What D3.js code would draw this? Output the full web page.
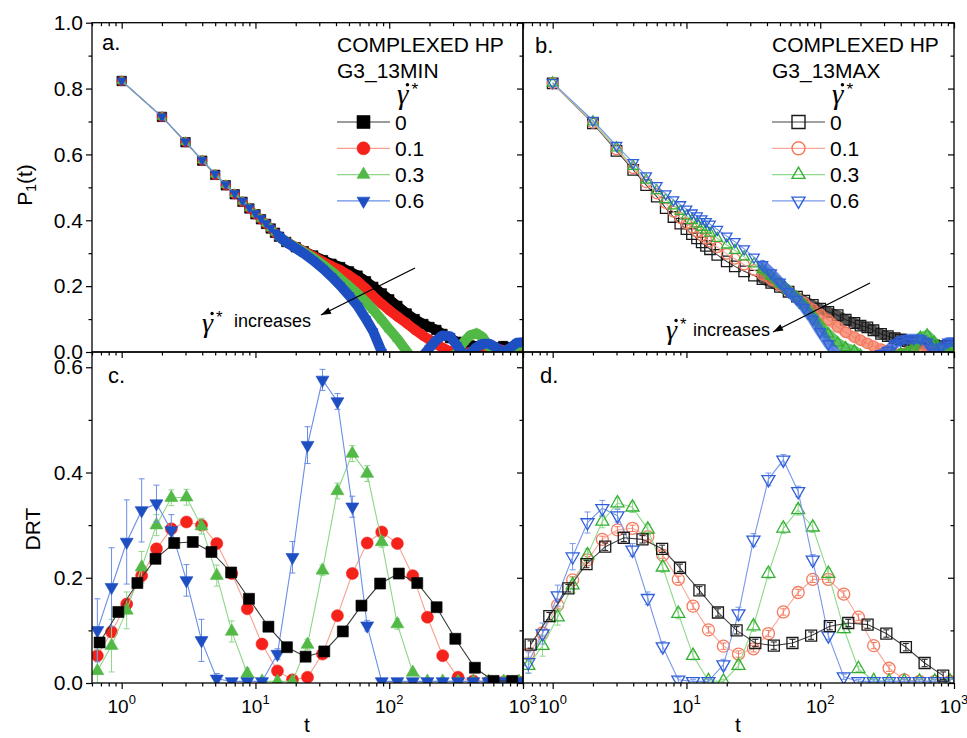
<!DOCTYPE html>
<html>
<head>
<meta charset="utf-8">
<script src="https://cdn.jsdelivr.net/npm/d3@7"></script>
<style>
body { margin: 0; background: #fff; }
text { font-family: "Liberation Sans", Arial, sans-serif; fill: #000; }
</style>
</head>
<body>
<svg id="chart" width="967" height="738"></svg>
<script>
// time points of the P1(t) curves (top panels)
var tTop = [1,2,3,4,5,6,7,8,9,10,11,12,13,14,15,17,20,23,27,32,37,43,50,58,67,76,88,100,115,135,155,180,200,225,250,285,320,360,400,450,500,560,630,710,800,900,1000];

// panel a, G3_13MIN, shear rate 0 / 0.1 / 0.3 / 0.6
var aBlack = [.823,.714,.637,.581,.538,.506,.479,.456,.436,.418,.403,.389,.375,.362,.350,
  .334,.318,.306,.293,.279,.268,.258,.245,.232,.215,.198,.178,.160,.140,.117,.100,.085,.076,.067,.055,
  .042,.031,.025,.020,.017,.022,.018,.012,.018,.013,.008,.012];
var aRed = [.823,.714,.637,.581,.538,.506,.479,.456,.436,.418,.403,.389,.375,.362,.350,
  .334,.319,.306,.291,.274,.261,.249,.233,.215,.192,.169,.146,.127,.108,.087,.068,.049,.037,.024,.013,
  .002,-.01,-.01,.0,.006,.012,.015,.012,.005,.0,.004,.005];
var aGreen = [.823,.714,.638,.582,.539,.507,.480,.457,.437,.419,.404,.390,.376,.363,.351,
  .334,.318,.304,.286,.265,.245,.222,.200,.177,.152,.128,.097,.069,.040,.002,-.03,-.05,-.05,-.04,-.03,
  -.02,-.002,.03,.05,.057,.045,.015,.0,.0,.01,.018,.02];
var aBlue = [.824,.715,.639,.583,.541,.509,.482,.459,.439,.421,.406,.391,.377,.364,.352,
  .333,.315,.299,.278,.253,.229,.202,.172,.140,.100,.062,.0,-.04,-.08,-.1,-.06,-.01,.012,.036,.05,
  .048,.02,-.01,-.004,.015,.025,.025,.014,.0,.012,.028,.03];

// panel b, G3_13MAX
var bBlack = [.816,.694,.611,.553,.507,.472,.437,.410,.390,.373,.358,.345,.333,.322,.312,
  .295,.275,.260,.245,.232,.221,.210,.198,.183,.168,.156,.143,.132,.122,.112,.098,.088,.080,.075,.066,
  .055,.048,.042,.038,.033,.028,.025,.022,.020,.018,.020,.018];
var bRed = [.816,.696,.615,.558,.515,.481,.452,.426,.407,.391,.377,.365,.354,.344,.335,
  .318,.298,.283,.265,.249,.234,.219,.202,.185,.165,.150,.130,.115,.097,.076,.060,.045,.036,.026,.018,
  .009,.003,-.005,-.005,.0,.005,.008,.005,.0,-.005,.0,.005];
var bGreen = [.817,.699,.620,.564,.522,.490,.463,.444,.427,.413,.400,.389,.379,.370,.361,
  .345,.325,.309,.289,.268,.250,.230,.207,.186,.165,.142,.110,.080,.055,.028,.013,.004,-.01,-.02,-.02,
  -.02,-.01,-.01,-.005,.0,.01,.045,.052,.03,.0,.005,.015];
var bBlue = [.818,.703,.627,.575,.535,.505,.480,.462,.447,.434,.422,.413,.404,.396,.388,
  .372,.352,.335,.313,.288,.265,.240,.212,.183,.160,.135,.099,.062,.025,-.01,-.04,-.05,-.05,-.04,-.02,
  -.005,.005,.025,.035,.04,.04,.04,.03,.0,.015,.03,.03];

// DRT time grids (bottom panels)
var tSq = [0.684,0.944,1.31,1.79,2.47,3.40,4.69,6.58,8.95,12.5,17.2,23.7,32.7,45,62,85.5,118,162,226,312,437,603,830];
var tGrid = [0.658,0.84,1.09,1.41,1.82,2.35,3.05,3.95,5.14,6.65,8.69,11.2,14.6,18.9,24.5,31.7,41,53,68.4,87.9,115,150,193,251,327,425,552,718,933];

// panel c
var cBlack = [.077,.135,.190,.236,.266,.268,.249,.210,.160,.107,.068,.050,.060,.098,.147,.189,.208,.190,.144,.084,.029,.004,.004];
var cRed = [.052,.097,.150,.204,.255,.293,.306,.300,.265,.208,.141,.074,.023,.006,.011,.055,.128,.208,.266,.287,.265,.204,.125,.052,.011,.004,.002,.002,.002];
var cGreen = [.023,.071,.138,.220,.300,.352,.353,.298,.204,.098,.018,.003,.003,.003,.073,.214,.365,.436,.398,.268,.112,.020,.003,.003,.003,.003,.003,.003,.003];
var cBlue = [.100,.182,.268,.328,.341,.290,.195,.081,.008,.003,.003,.003,.055,.239,.452,.576,.535,.335,.109,.003,.003,.003,.003,.003,.003,.003,.003,.003,.003];
var cErrBlack = [.006,.006,.008,.008,.008,.006,.006,.006,.006,.005,.005,.005,.005,.005,.006,.006,.006,.006,.006,.005,.004,.004,.004];
var cErrRed = [.008,.008,.01,.01,.01,.008,.008,.008,.008,.006,.006,.005,.005,.004,.004,.005,.006,.006,.006,.006,.006,.006,.005,.005,.004,.004,.003,.003,.003];
var cErrGreen = [.04,.05,.035,.03,.02,.015,.015,.015,.02,.02,.01,.005,.004,.004,.01,.01,.015,.015,.015,.01,.01,.005,.004,.004,.004,.004,.004,.004,.004];
var cErrBlue = [.06,.075,.08,.06,.035,.03,.03,.04,.01,.005,.005,.005,.01,.03,.035,.02,.015,.02,.01,.005,.005,.005,.005,.005,.005,.005,.005,.005,.005];

// panel d
var dBlack = [.073,.127,.180,.226,.259,.276,.273,.255,.219,.176,.134,.100,.076,.071,.076,.090,.108,.114,.111,.094,.068,.038,.014];
var dRed = [.055,.095,.148,.196,.234,.273,.291,.294,.278,.243,.197,.146,.101,.070,.055,.065,.094,.135,.172,.197,.197,.169,.125,.071,.028,.006,.003,.003,.003];
var dGreen = [.033,.071,.125,.186,.243,.307,.342,.334,.292,.220,.132,.052,.004,.003,.033,.108,.208,.294,.329,.296,.208,.103,.027,.004,.003,.003,.003,.003,.003];
var dBlue = [.039,.094,.166,.240,.305,.332,.318,.253,.161,.069,.006,.003,.003,.035,.132,.272,.387,.424,.364,.234,.090,.012,.003,.003,.003,.003,.003,.003,.003];
var dErrBlack = [.007,.007,.007,.007,.007,.007,.007,.007,.007,.007,.007,.007,.007,.007,.007,.007,.007,.007,.007,.007,.007,.007,.007];
var dErrRed = [.006,.006,.006,.006,.006,.006,.006,.006,.006,.006,.006,.006,.006,.006,.006,.006,.006,.006,.006,.006,.006,.006,.006,.006,.006,.004,.004,.004,.004];
var dErrGreen = [.015,.02,.015,.015,.012,.012,.01,.01,.01,.01,.01,.008,.004,.004,.008,.01,.01,.01,.01,.01,.01,.008,.005,.004,.004,.004,.004,.004,.004];
var dErrBlue = [.02,.02,.02,.025,.02,.015,.012,.012,.012,.01,.005,.004,.004,.01,.012,.012,.012,.01,.01,.01,.008,.005,.004,.004,.004,.004,.004,.004,.004];

var shearLabels = ["0", "0.1", "0.3", "0.6"];
var shapes = ["square", "circle", "up", "down"];
var fullColors = ["#000000", "#f5221b", "#52b946", "#1e4fc2"];
var lineColors = ["#3a3a3a", "#f7a08f", "#8ed68a", "#6a8ee6"];
var openColors = ["#1a1a1a", "#f47a5e", "#33b033", "#2f5fd8"];
var openLines = ["#444444", "#f8a898", "#8fd98c", "#7a98ea"];

var svg = d3.select("#chart");
var defs = svg.append("defs");

// scales
var xLeft = d3.scaleLog().domain([0.6, 1000]).range([92, 523]);
var xRight = d3.scaleLog().domain([0.6, 1000]).range([523, 954]);
var yP = d3.scaleLinear().domain([0, 1]).range([352, 22.7]);
var yD = d3.scaleLinear().domain([0, 0.629]).range([683, 352]);

function clipGroup(id, x0, y0, x1, y1) {
  defs.append("clipPath").attr("id", id).append("rect")
    .attr("x", x0).attr("y", y0).attr("width", x1 - x0).attr("height", y1 - y0);
  return svg.append("g").attr("clip-path", "url(#" + id + ")");
}

function markerPath(shape, w) {
  if (shape == "square") return d3.symbol(d3.symbolSquare, w * w)();
  if (shape == "circle") return d3.symbol(d3.symbolCircle, Math.PI * w * w / 4)();
  return d3.symbol(d3.symbolTriangle, Math.sqrt(3) / 4 * w * w)();
}

function drawSeries(g, x, y, ts, vs, o) {
  var pts = ts.map(function(t, i) { return [x(t), y(vs[i])]; });
  var line = d3.line();
  g.append("path").attr("d", line(pts))
    .attr("fill", "none").attr("stroke", o.line).attr("stroke-width", 1.1);
  if (o.bandFrom) {
    var bp = pts.filter(function(p, i) { return ts[i] >= o.bandFrom; });
    g.append("path").attr("d", line(bp))
      .attr("fill", "none").attr("stroke", o.color).attr("stroke-width", o.bandW)
      .attr("stroke-opacity", o.bandOp).attr("stroke-linejoin", "round").attr("stroke-linecap", "round");
  }
  if (o.errs) {
    var eg = g.append("g").attr("stroke", o.errColor || o.line).attr("stroke-width", 1);
    pts.forEach(function(p, i) {
      var y1 = y(vs[i] + o.errs[i]), y2 = y(vs[i] - o.errs[i]);
      eg.append("line").attr("x1", p[0]).attr("x2", p[0]).attr("y1", y1).attr("y2", y2);
      eg.append("line").attr("x1", p[0] - 3).attr("x2", p[0] + 3).attr("y1", y1).attr("y2", y1);
      eg.append("line").attr("x1", p[0] - 3).attr("x2", p[0] + 3).attr("y1", y2).attr("y2", y2);
    });
  }
  g.selectAll(null).data(pts).enter().append("path")
    .attr("d", markerPath(o.shape, o.size))
    .attr("transform", function(p) {
      return "translate(" + p[0] + "," + p[1] + ")" + (o.shape == "down" ? " rotate(180)" : "");
    })
    .attr("fill", o.filled ? o.color : "none")
    .attr("stroke", o.color)
    .attr("stroke-width", o.filled ? 0.6 : 1.3);
}

// panel a
var gA = clipGroup("clipA", 92, 22.7, 523, 352);
[aBlack, aRed, aGreen, aBlue].forEach(function(vs, k) {
  drawSeries(gA, xLeft, yP, tTop, vs, {shape: shapes[k], size: 9.5, color: fullColors[k],
    line: lineColors[k], filled: true, bandFrom: 15, bandW: 10, bandOp: 1});
});

// panel b
var gB = clipGroup("clipB", 523, 22.7, 954, 352);
[bBlack, bRed, bGreen, bBlue].forEach(function(vs, k) {
  drawSeries(gB, xRight, yP, tTop, vs, {shape: shapes[k], size: 10.5, color: openColors[k],
    line: openLines[k], filled: false, bandFrom: 37, bandW: 10, bandOp: 0.75});
});

// panel c (black drawn last, on top)
var gC = clipGroup("clipC", 92, 352, 523, 683);
drawSeries(gC, xLeft, yD, tGrid, cRed, {shape: "circle", size: 12, color: fullColors[1], line: lineColors[1], filled: true, errs: cErrRed});
drawSeries(gC, xLeft, yD, tGrid, cGreen, {shape: "up", size: 13, color: fullColors[2], line: lineColors[2], filled: true, errs: cErrGreen});
drawSeries(gC, xLeft, yD, tGrid, cBlue, {shape: "down", size: 13, color: fullColors[3], line: lineColors[3], filled: true, errs: cErrBlue});
drawSeries(gC, xLeft, yD, tSq, cBlack, {shape: "square", size: 11, color: fullColors[0], line: lineColors[0], filled: true, errs: cErrBlack});

// panel d
var gD = clipGroup("clipD", 523, 352, 954, 683);
drawSeries(gD, xRight, yD, tGrid, dRed, {shape: "circle", size: 12, color: openColors[1], line: openLines[1], filled: false, errs: dErrRed, errColor: openColors[1]});
drawSeries(gD, xRight, yD, tGrid, dGreen, {shape: "up", size: 13, color: openColors[2], line: openLines[2], filled: false, errs: dErrGreen});
drawSeries(gD, xRight, yD, tGrid, dBlue, {shape: "down", size: 13, color: openColors[3], line: openLines[3], filled: false, errs: dErrBlue});
drawSeries(gD, xRight, yD, tSq, dBlack, {shape: "square", size: 11, color: openColors[0], line: openLines[0], filled: false, errs: dErrBlack, errColor: openColors[0]});

// axes
var decades = [1, 10, 100, 1000];
var minorX = [];
[0.1, 1, 10, 100].forEach(function(b) {
  for (var k = 2; k < 10; k++) { var v = b * k; if (v >= 0.6) minorX.push(v); }
});

function styleAxis(g) {
  g.select(".domain").remove();
  g.selectAll("line").attr("stroke", "#000").attr("stroke-width", 1.2);
  g.attr("font-size", 21).attr("font-family", "Liberation Sans, Arial, sans-serif");
  g.selectAll("text").attr("fill", "#000");
}

function xTicks(x, yPos) {
  svg.append("g").attr("transform", "translate(0," + yPos + ")")
    .call(d3.axisBottom(x).tickValues(decades).tickSize(6).tickSizeOuter(0).tickFormat(""))
    .call(styleAxis);
  svg.append("g").attr("transform", "translate(0," + yPos + ")")
    .call(d3.axisBottom(x).tickValues(minorX).tickSize(3.5).tickSizeOuter(0).tickFormat(""))
    .call(styleAxis);
}

function yTicks(xPos, y, major, minor, withLabels) {
  svg.append("g").attr("transform", "translate(" + xPos + ",0)")
    .call(d3.axisLeft(y).tickValues(major).tickSize(6).tickPadding(3).tickSizeOuter(0)
      .tickFormat(withLabels ? d3.format(".1f") : ""))
    .call(styleAxis);
  svg.append("g").attr("transform", "translate(" + xPos + ",0)")
    .call(d3.axisLeft(y).tickValues(minor).tickSize(3.5).tickSizeOuter(0).tickFormat(""))
    .call(styleAxis);
}

[xLeft, xRight].forEach(function(x) {
  xTicks(x, 22.7);
  xTicks(x, 352);
  xTicks(x, 683);
});
[92, 523, 954].forEach(function(xp) {
  yTicks(xp, yP, [0, 0.2, 0.4, 0.6, 0.8, 1.0], [0.1, 0.3, 0.5, 0.7, 0.9], xp == 92);
  yTicks(xp, yD, [0, 0.2, 0.4, 0.6], [0.1, 0.3, 0.5], xp == 92);
});

// frames
[[92, 22.7, 523, 352], [523, 22.7, 954, 352], [92, 352, 523, 683], [523, 352, 954, 683]].forEach(function(r) {
  svg.append("rect").attr("x", r[0]).attr("y", r[1]).attr("width", r[2] - r[0]).attr("height", r[3] - r[1])
    .attr("fill", "none").attr("stroke", "#000").attr("stroke-width", 1.3);
});

// log tick labels
[xLeft, xRight].forEach(function(x) {
  decades.forEach(function(v, i) {
    var t = svg.append("text").attr("x", x(v)).attr("y", 713).attr("text-anchor", "middle").attr("font-size", 19);
    t.append("tspan").text("10");
    t.append("tspan").attr("dy", -9).attr("font-size", 13).text(i);
  });
});

// axis titles
var p1 = svg.append("text").attr("transform", "translate(32,185) rotate(-90)")
  .attr("text-anchor", "middle").attr("font-size", 21);
p1.append("tspan").text("P");
p1.append("tspan").attr("dy", 4).attr("font-size", 14).text("1");
p1.append("tspan").attr("dy", -4).text("(t)");
svg.append("text").attr("transform", "translate(40,529) rotate(-90)")
  .attr("text-anchor", "middle").attr("font-size", 21).text("DRT");
svg.append("text").attr("x", 307).attr("y", 732).attr("text-anchor", "middle").attr("font-size", 21).text("t");
svg.append("text").attr("x", 738).attr("y", 732).attr("text-anchor", "middle").attr("font-size", 21).text("t");

// panel letters
[["a.", 102, 50], ["b.", 535, 53], ["c.", 108, 383], ["d.", 540, 383]].forEach(function(p) {
  svg.append("text").attr("x", p[1]).attr("y", p[2]).attr("font-size", 22).text(p[0]);
});

// gamma-dot-star symbol
function gammaDot(x, y, size) {
  svg.append("text").attr("x", x).attr("y", y).attr("font-size", size)
    .style("font-family", "Liberation Serif, serif").style("font-style", "italic").text("γ");
  svg.append("circle").attr("cx", x + size * 0.36).attr("cy", y - size * 0.66).attr("r", size * 0.06).attr("fill", "#000");
  svg.append("text").attr("x", x + size * 0.5).attr("y", y - size * 0.32).attr("font-size", size * 0.6).text("*");
}

// legends
function legend(x0, y0, name, filled) {
  svg.append("text").attr("x", x0).attr("y", 52).attr("font-size", 21).text("COMPLEXED HP");
  svg.append("text").attr("x", x0).attr("y", 78).attr("font-size", 21).text(name);
  gammaDot(x0 + 60, 104, 29);
  shearLabels.forEach(function(lab, k) {
    var yy = y0 + k * 26.3;
    svg.append("line").attr("x1", x0).attr("x2", x0 + 53).attr("y1", yy).attr("y2", yy)
      .attr("stroke", filled ? lineColors[k] : openLines[k]).attr("stroke-width", 1.2);
    svg.append("path").attr("d", markerPath(shapes[k], 13))
      .attr("transform", "translate(" + (x0 + 26.5) + "," + yy + ")" + (shapes[k] == "down" ? " rotate(180)" : ""))
      .attr("fill", filled ? fullColors[k] : "none")
      .attr("stroke", filled ? fullColors[k] : openColors[k]).attr("stroke-width", filled ? 0.6 : 1.4);
    svg.append("text").attr("x", x0 + 58).attr("y", yy + 7.5).attr("font-size", 21).text(lab);
  });
}
legend(337, 122, "G3_13MIN", true);
legend(772, 122, "G3_13MAX", false);

// "increases" annotations with arrows
function arrow(x1, y1, x2, y2) {
  svg.append("line").attr("x1", x1).attr("y1", y1).attr("x2", x2).attr("y2", y2)
    .attr("stroke", "#000").attr("stroke-width", 1.3);
  var a = Math.atan2(y2 - y1, x2 - x1), L = 10, W = 3.5;
  var bx = x2 - L * Math.cos(a), by = y2 - L * Math.sin(a);
  svg.append("path").attr("d", "M" + x2 + "," + y2 +
    "L" + (bx + W * Math.sin(a)) + "," + (by - W * Math.cos(a)) +
    "L" + (bx - W * Math.sin(a)) + "," + (by + W * Math.cos(a)) + "Z").attr("fill", "#000");
}
gammaDot(202, 332, 28);
svg.append("text").attr("x", 234).attr("y", 327).attr("font-size", 18).text("increases");
arrow(415, 268, 321, 315);
gammaDot(666, 339, 28);
svg.append("text").attr("x", 693).attr("y", 336).attr("font-size", 18).text("increases");
arrow(870, 283, 773, 332);
</script>
</body>
</html>
